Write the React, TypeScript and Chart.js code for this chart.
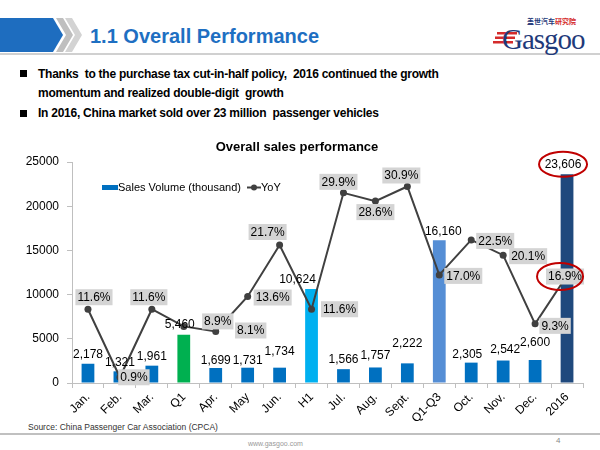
import React, { useEffect, useRef } from "react";
import { Chart, registerables } from "chart.js";

Chart.register(...registerables);

// ---------- data ----------
const categories = ["Jan.", "Feb.", "Mar.", "Q1", "Apr.", "May", "Jun.", "H1", "Jul.", "Aug.", "Sept.", "Q1-Q3", "Oct.", "Nov.", "Dec.", "2016"];
const salesVolume = [2178, 1321, 1961, 5460, 1699, 1731, 1734, 10624, 1566, 1757, 2222, 16160, 2305, 2542, 2600, 23606];
const yoyPercent = [11.6, 0.9, 11.6, 8.9, 8.1, 13.6, 21.7, 11.6, 29.9, 28.6, 30.9, 17.0, 22.5, 20.1, 9.3, 16.9];
const yTickValues = [0, 5000, 10000, 15000, 20000, 25000];

// ---------- styles / label placement ----------
const barColors = ["#0070C0", "#0070C0", "#0070C0", "#00B050", "#0070C0", "#0070C0", "#0070C0", "#00B0F0", "#0070C0", "#0070C0", "#0070C0", "#558ED5", "#0070C0", "#0070C0", "#0070C0", "#1F497D"];
const barLabelLift = [9, 9, 9, 10, 7, 7, 16, 9, 9, 12, 20, 8, 8, 11, 17, 10];
const barLabelDx = [0, 0, 0, -4, 0, 0, 0, -14, 0, 0, 0, 4, -4, 2, 0, -4];
const yoyLabelDx = [6, 14, -3, 34, 35, 25, -12, 28, -5, 0, -6, 24, 24, 25, 20, -2];
const yoyLabelDy = [-12, 0, -12, -5, -1, 1, -13, 0, -11, 11, -11, 1, 1, 1, 2, 1];
const highlightIndex = 15;

const FONT = "Arial, 'Liberation Sans', sans-serif";

const labelPlugin = {
  id: "customLabels",
  afterDatasetsDraw(chart: any) {
    const ctx = chart.ctx;
    const lineMeta = chart.getDatasetMeta(0);
    const barMeta = chart.getDatasetMeta(1);
    ctx.save();
    ctx.font = `12px ${FONT}`;
    ctx.textAlign = "center";
    ctx.textBaseline = "middle";
    // bar labels
    barMeta.data.forEach((el: any, i: number) => {
      ctx.fillStyle = "#000";
      ctx.fillText(salesVolume[i].toLocaleString("en-US"), el.x + barLabelDx[i], el.y - barLabelLift[i]);
    });
    // yoy labels
    lineMeta.data.forEach((el: any, i: number) => {
      const txt = yoyPercent[i].toFixed(1) + "%";
      const w = ctx.measureText(txt).width + 4;
      const cx = el.x + yoyLabelDx[i];
      const cy = el.y + yoyLabelDy[i];
      ctx.fillStyle = "#D4D4D4";
      ctx.fillRect(cx - w / 2, cy - 8, w, 16);
      ctx.fillStyle = "#000";
      ctx.fillText(txt, cx, cy + 0.5);
    });
    // red highlight ellipses
    const b = barMeta.data[highlightIndex];
    const p = lineMeta.data[highlightIndex];
    ctx.strokeStyle = "#C00000";
    ctx.lineWidth = 2;
    ctx.beginPath();
    ctx.ellipse(b.x - 4, b.y - 10, 24, 12.5, 0, 0, Math.PI * 2);
    ctx.stroke();
    ctx.beginPath();
    ctx.ellipse(p.x - 7, p.y + 1, 23, 13.5, 0, 0, Math.PI * 2);
    ctx.stroke();

    // title
    ctx.font = `bold 13px ${FONT}`;
    ctx.fillStyle = "#000";
    ctx.fillText("Overall sales performance", 297, 147);

    // legend
    ctx.font = `11px ${FONT}`;
    ctx.textAlign = "left";
    ctx.fillStyle = "#0070C0";
    ctx.fillRect(102, 185, 16, 5);
    ctx.fillStyle = "#000";
    ctx.fillText("Sales Volume (thousand)", 118, 187.5);
    ctx.strokeStyle = "#404040";
    ctx.lineWidth = 2;
    ctx.beginPath();
    ctx.moveTo(247, 187.5);
    ctx.lineTo(261, 187.5);
    ctx.stroke();
    ctx.fillStyle = "#404040";
    ctx.beginPath();
    ctx.arc(254, 187.5, 3, 0, Math.PI * 2);
    ctx.fill();
    ctx.fillStyle = "#000";
    ctx.fillText("YoY", 261, 187.5);
    ctx.restore();
  },
};

function SalesChart() {
  const ref = useRef<HTMLCanvasElement>(null);
  useEffect(() => {
    if (!ref.current) return;
    const chart = new Chart(ref.current, {
      type: "bar",
      data: {
        labels: categories,
        datasets: [
          {
            type: "line",
            label: "YoY",
            data: yoyPercent,
            yAxisID: "y1",
            borderColor: "#404040",
            backgroundColor: "#404040",
            borderWidth: 2,
            pointRadius: 3.5,
            pointBackgroundColor: "#404040",
            pointBorderWidth: 0,
            tension: 0,
            order: 1,
          } as any,
          {
            type: "bar",
            label: "Sales Volume (thousand)",
            data: salesVolume,
            yAxisID: "y",
            backgroundColor: barColors,
            barPercentage: 0.4,
            categoryPercentage: 1,
            order: 2,
          },
        ],
      },
      options: {
        responsive: false,
        animation: false,
        devicePixelRatio: 1,
        layout: { padding: { top: 162, right: 17, left: 0, bottom: 0 } },
        plugins: { legend: { display: false }, title: { display: false }, tooltip: { enabled: false } },
        scales: {
          x: {
            offset: true,
            grid: { offset: true, drawOnChartArea: false, color: "#BFBFBF", tickLength: 5 },
            border: { color: "#BFBFBF" },
            ticks: { maxRotation: 45, minRotation: 45, color: "#000", font: { family: FONT, size: 12 }, padding: 2 },
            afterFit: (s: any) => { s.height = 67; },
          },
          y: {
            min: 0,
            max: 25000,
            afterBuildTicks: (s: any) => { s.ticks = yTickValues.map((v) => ({ value: v })); },
            grid: { drawOnChartArea: false, color: "#BFBFBF", tickLength: 5 },
            border: { color: "#BFBFBF" },
            ticks: { color: "#000", font: { family: FONT, size: 12 }, padding: 8, callback: (v: any) => String(v) },
            afterFit: (s: any) => { s.width = 72; },
          },
          y1: { min: 0, max: 34.75, display: false, position: "right" },
        },
      },
      plugins: [labelPlugin],
    });
    return () => chart.destroy();
  }, []);
  return <canvas ref={ref} width={600} height={450} style={{ position: "absolute", left: 0, top: 0, width: 600, height: 450 }} />;
}

export default function App() {
  const abs = (s: React.CSSProperties): React.CSSProperties => ({ position: "absolute", ...s });
  const bulletText: React.CSSProperties = { fontFamily: FONT, fontWeight: "bold", fontSize: 12, letterSpacing: -0.25, color: "#000", whiteSpace: "pre", lineHeight: "16px" };
  return (
    <div style={{ position: "absolute", left: 0, top: 0, width: 600, height: 450, background: "#fff", overflow: "hidden", fontFamily: FONT }}>
      <svg width={600} height={60} style={abs({ left: 0, top: 0 })}>
        <polygon points="0,18 53,18 63,35 53,52 0,52" fill="#1E6DBF" />
        <polygon points="56,18 63,18 73,35 63,52 56,52 66,35" fill="#BFBFBF" />
        <polygon points="65,18 72,18 82,35 72,52 65,52 75,35" fill="#D3D3D3" />
        <rect x={0} y={53} width={600} height={2} fill="#D0D0D0" />
        <rect x={497} y={32} width={20} height={2.5} fill="#D42B2B" />
        <rect x={495} y={36.5} width={20} height={2.5} fill="#D42B2B" />
        <rect x={493} y={41} width={20} height={2.5} fill="#D42B2B" />
      </svg>
      <div style={abs({ left: 90, top: 24, fontSize: 20, fontWeight: "bold", color: "#1E6FC2", whiteSpace: "nowrap", lineHeight: "24px" })}>1.1 Overall Performance</div>
      <div style={abs({ left: 502, top: 24, fontSize: 29, fontFamily: "'Liberation Serif', 'DejaVu Serif', serif", color: "#1F3A7A", lineHeight: "30px", letterSpacing: -1 })}>Gasgoo</div>
      <div style={abs({ left: 527, top: 17, fontSize: 7, fontFamily: "'Noto Sans CJK SC', sans-serif", fontWeight: "bold", lineHeight: "9px", whiteSpace: "nowrap" })}>
        <span style={{ color: "#1F3A7A" }}>盖世汽车</span><span style={{ color: "#D42B2B" }}>研究院</span>
      </div>

      <div style={abs({ left: 20, top: 70, width: 7, height: 7, background: "#000" })} />
      <div style={abs({ left: 38, top: 66, ...bulletText })}>{"Thanks  to the purchase tax cut-in-half policy,  2016 continued the growth"}</div>
      <div style={abs({ left: 38, top: 85, ...bulletText })}>{"momentum and realized double-digit  growth"}</div>
      <div style={abs({ left: 20, top: 110, width: 7, height: 7, background: "#000" })} />
      <div style={abs({ left: 38, top: 105, ...bulletText })}>{"In 2016, China market sold over 23 million  passenger vehicles"}</div>

      <div style={abs({ left: 28, top: 421, fontSize: 8.5, color: "#333", whiteSpace: "nowrap", lineHeight: "12px" })}>Source: China Passenger Car Association (CPCA)</div>
      <div style={abs({ left: 0, top: 433, width: 600, height: 2, background: "#C0C0C0" })} />
      <div style={abs({ left: 248, top: 439, fontSize: 7, color: "#999", whiteSpace: "nowrap", lineHeight: "9px" })}>www.gasgoo.com</div>
      <div style={abs({ left: 556, top: 436, fontSize: 8, color: "#888", lineHeight: "10px" })}>4</div>

      <SalesChart />
    </div>
  );
}
